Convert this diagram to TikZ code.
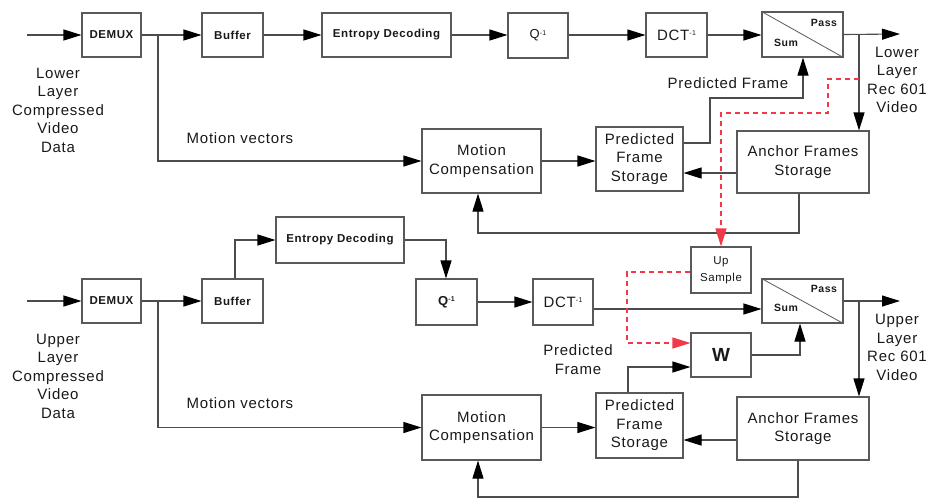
\documentclass[tikz,border=0pt]{standalone}
\usepackage{fontspec}
\setmainfont{Liberation Sans}[LetterSpace=5]
\usetikzlibrary{arrows.meta}
\definecolor{dashred}{HTML}{F03A4A}
\tikzset{
  box/.style={draw=black!65, line width=1.1pt, rectangle, inner sep=0pt, align=center,
    font=\fontsize{15}{18.5}\selectfont, text=black!90},
  sbox/.style={box, font=\fontsize{11.5}{17}\selectfont\bfseries},
  wire/.style={draw=black!70, line width=1.1pt},
  arr/.style={wire, -{Triangle[length=18pt,width=11pt,black]}},
  rarr/.style={draw=dashred, line width=1.1pt, dash pattern=on 5pt off 4pt,
    -{Triangle[length=18pt,width=11pt,dashred]}},
  lbl/.style={align=center, inner sep=0pt, text=black!90, font=\fontsize{15}{18.5}\selectfont},
  tiny/.style={inner sep=0pt, text=black!90, font=\fontsize{10.5}{12}\selectfont\bfseries},
}
\newcommand{\inv}{\raisebox{0.55ex}{\fontsize{7}{7}\selectfont -1}}
\begin{document}
\begin{tikzpicture}[x=1pt,y=-1pt]
\useasboundingbox (0,0) rectangle (926,499);

% ---------- lower layer (top half) ----------
\node[sbox, minimum width=59pt, minimum height=44pt] (demA) at (111.5,35) {DEMUX};
\node[sbox, minimum width=61pt, minimum height=44pt] (bufA) at (232.5,35) {Buffer};
\node[sbox, minimum width=129pt, minimum height=44pt] (edA) at (386.5,35) {Entropy Decoding};
\node[box, minimum width=60pt, minimum height=45pt, font=\fontsize{13}{15}\selectfont] (qA) at (538,35.5) {Q\inv};
\node[box, minimum width=61pt, minimum height=44pt] (dctA) at (676.5,35) {DCT\inv};
\node[box, minimum width=81pt, minimum height=45pt] (spA) at (802.5,34.5) {};
\draw[draw=black!65, line width=0.8pt] (spA.north west) -- (spA.south east);
\node[tiny] (passA) at (824,23) {Pass};
\node[tiny] (sumA) at (786,43) {Sum};
\node[box, minimum width=119pt, minimum height=64pt] (mcA) at (481.5,161) {Motion\\Compensation};
\node[box, minimum width=87pt, minimum height=64pt] (pfsA) at (639.5,159) {Predicted\\Frame\\Storage};
\node[box, minimum width=132pt, minimum height=62pt] (afsA) at (803,162) {Anchor Frames\\Storage};

\node[lbl] (inlabA) at (58,110) {Lower\\Layer\\Compressed\\Video\\Data};
\node[lbl] (mvA) at (240,138) {Motion vectors};
\node[lbl] (pfA) at (728,83) {Predicted Frame};
\node[lbl] (outlabA) at (897,80) {Lower\\Layer\\Rec 601\\Video};

\coordinate (inA) at (27,35);
\coordinate (brA) at (158,35);
\coordinate (outA) at (900,34);
\coordinate (boA) at (859,34);
\coordinate (rsA) at (859,79);

\draw[arr] (inA) -- (demA.west);
\draw[arr] (demA.east) -- (bufA.west);
\draw[arr] (brA) |- (mcA.west);
\draw[arr] (bufA.east) -- (edA.west);
\draw[arr] (edA.east) -- (qA.west |- edA.east);
\draw[arr] (qA.east |- dctA.west) -- (dctA.west);
\draw[arr] (dctA.east) -- (spA.west |- dctA.east);
\draw[arr] (spA.east) -- (outA);
\draw[arr] (boA) -- (boA |- afsA.north);
\draw[arr] (pfsA.east |- 0,143) -- (710,143) |- (803,98) -- (spA.south -| 803,0);
\draw[arr] (afsA.west |- 0,173) -- (pfsA.east |- 0,173);
\draw[arr] (mcA.east) -- (mcA.east -| pfsA.west);
\draw[arr] (afsA.south -| 799,0) |- (478,233) -- (mcA.south -| 478,0);

% ---------- upsampling ----------
\node[box, minimum width=60pt, minimum height=46pt, font=\fontsize{11.5}{16.5}\selectfont] (up) at (721,270) {Up\\Sample};
\draw[rarr] (rsA) -| (828,113) -| (up.north);

% ---------- upper layer (bottom half) ----------
\node[sbox, minimum width=59pt, minimum height=44pt] (demB) at (111.5,301) {DEMUX};
\node[sbox, minimum width=61pt, minimum height=44pt] (bufB) at (232.5,301) {Buffer};
\node[sbox, minimum width=128pt, minimum height=46pt] (edB) at (340,240) {Entropy Decoding};
\node[box, minimum width=61pt, minimum height=46pt, font=\fontsize{13}{15}\selectfont\bfseries] (qB) at (446.5,302) {Q\inv};
\node[box, minimum width=60pt, minimum height=46pt] (dctB) at (563,302) {DCT\inv};
\node[box, minimum width=81pt, minimum height=44pt] (spB) at (802.5,301) {};
\draw[draw=black!65, line width=0.8pt] (spB.north west) -- (spB.south east);
\node[tiny] (passB) at (824,289) {Pass};
\node[tiny] (sumB) at (786,308) {Sum};
\node[box, minimum width=60pt, minimum height=44pt, font=\fontsize{19}{20}\selectfont\bfseries] (W) at (721,355) {W};
\node[box, minimum width=119pt, minimum height=65pt] (mcB) at (481.5,427.5) {Motion\\Compensation};
\node[box, minimum width=87pt, minimum height=65pt] (pfsB) at (639.5,425.5) {Predicted\\Frame\\Storage};
\node[box, minimum width=132pt, minimum height=63pt] (afsB) at (803,428.5) {Anchor Frames\\Storage};

\node[lbl] (inlabB) at (58,376) {Upper\\Layer\\Compressed\\Video\\Data};
\node[lbl] (mvB) at (240,403) {Motion vectors};
\node[lbl] (pfB) at (578,359.5) {Predicted\\Frame};
\node[lbl] (outlabB) at (897,347.5) {Upper\\Layer\\Rec 601\\Video};

\coordinate (inB) at (27,301);
\coordinate (brB) at (158,301);
\coordinate (outB) at (900,301);
\coordinate (boB) at (859,301);

\draw[arr] (inB) -- (demB.west);
\draw[arr] (demB.east) -- (bufB.west);
\draw[arr] (brB) |- (mcB.west);
\draw[arr] (bufB.north -| 235,0) |- (edB.west);
\draw[arr] (edB.east) -| (qB.north -| 446,0);
\draw[arr] (qB.east) -- (dctB.west);
\draw[arr] (dctB.east |- 0,309) -- (spB.west |- 0,309);
\draw[arr] (spB.east) -- (outB);
\draw[arr] (boB) -- (boB |- afsB.north);
\draw[arr] (W.east) -| (spB.south -| 800,0);
\draw[arr] (pfsB.north -| 628,0) |- (W.west |- 0,367);
\draw[arr] (mcB.east) -- (mcB.east -| pfsB.west);
\draw[arr] (afsB.west |- 0,440) -- (pfsB.east |- 0,440);
\draw[arr] (afsB.south -| 798,0) |- (478,497) -- (mcB.south -| 478,0);

\draw[rarr] (up.west |- 0,272) -| (627,343) -- (W.west |- 0,343);
\end{tikzpicture}
\end{document}
